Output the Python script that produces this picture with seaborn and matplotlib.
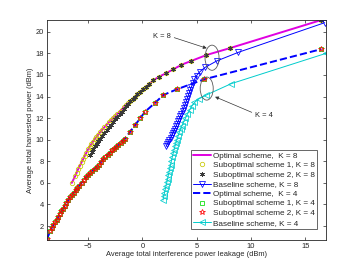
import matplotlib
matplotlib.use('Agg')
import matplotlib.pyplot as plt
from matplotlib.patches import Ellipse
import seaborn as sns

# K = 8 : optimal / suboptimal 1 (same points)
x8_opt = [-6.5, -6.2, -6.05, -5.9, -5.75, -5.6, -5.45, -5.3, -5.15, -5.0, -4.85, -4.7, -4.55,
          -4.4, -4.25, -4.1, -3.9, -3.7, -3.5, -3.3, -3.1, -2.9, -2.7, -2.5, -2.3, -2.1, -1.9,
          -1.7, -1.5, -1.3, -1.1, -0.9, -0.7, -0.45, -0.2, 0.1, 0.35, 0.6, 1.0, 1.5, 2.15, 2.85,
          3.6, 4.5, 5.9, 8.1, 16.5]
y8_opt = [6.0, 6.6, 6.95, 7.3, 7.6, 7.9, 8.2, 8.5, 8.8, 9.1, 9.35, 9.6, 9.82,
          10.03, 10.23, 10.42, 10.68, 10.92, 11.15, 11.37, 11.6, 11.8, 12.0, 12.2, 12.4, 12.6, 12.8,
          13.0, 13.2, 13.4, 13.6, 13.78, 13.96, 14.2, 14.42, 14.7, 14.92, 15.14, 15.5, 15.82, 16.15, 16.52,
          16.95, 17.3, 17.85, 18.5, 21.1]

# K = 8 : suboptimal 2
x8_sub2 = [-4.8, -4.65, -4.5, -4.35, -4.2, -4.05, -3.9, -3.7, -3.5, -3.3, -3.1, -2.9, -2.7,
           -2.5, -2.3, -2.1, -1.9, -1.7, -1.5, -1.3, -1.1, -0.9, -0.7, -0.45, -0.2, 0.1, 0.35,
           0.6, 1.0, 1.5, 2.15, 2.85, 3.6, 4.5, 5.9, 8.1, 16.5]
y8_sub2 = [8.55, 8.85, 9.12, 9.38, 9.62, 9.85, 10.05, 10.35, 10.62, 10.9, 11.15, 11.4, 11.65,
           11.9, 12.15, 12.38, 12.6, 12.85, 13.1, 13.33, 13.55, 13.76, 13.95, 14.2, 14.42, 14.7, 14.92,
           15.14, 15.5, 15.82, 16.15, 16.52, 16.95, 17.3, 17.85, 18.5, 21.1]

# K = 8 : baseline
x8_base = [2.2, 2.3, 2.4, 2.5, 2.6, 2.7, 2.8, 2.9, 3.0, 3.1, 3.2, 3.3, 3.4, 3.5, 3.6, 3.7, 3.8,
           3.9, 4.0, 4.1, 4.2, 4.3, 4.4, 4.52, 4.65, 4.8, 5.0, 5.3, 5.77, 6.85, 8.84, 16.8]
y8_base = [9.4, 9.6, 9.8, 10.0, 10.2, 10.4, 10.6, 10.8, 11.0, 11.23, 11.46, 11.7, 11.93, 12.17,
           12.4, 12.65, 12.9, 13.18, 13.46, 13.74, 14.02, 14.3, 14.58, 14.9, 15.25, 15.6, 15.95,
           16.3, 16.7, 17.3, 18.1, 20.85]

# K = 4 : optimal / suboptimal 1 / suboptimal 2 (same points)
x4_opt = [-8.8, -8.5, -8.35, -8.2, -8.05, -7.9, -7.75, -7.6, -7.45, -7.3, -7.15, -7.0, -6.83,
          -6.66, -6.48, -6.3, -6.15, -6.0, -5.8, -5.6, -5.4, -5.2, -5.0, -4.8, -4.6, -4.4, -4.2,
          -4.0, -3.8, -3.6, -3.4, -3.2, -3.0, -2.8, -2.6, -2.4, -2.2, -2.0, -1.8, -1.6, -1.13,
          -0.67, -0.21, 0.25, 1.17, 1.93, 3.17, 5.7, 16.5]
y4_opt = [0.75, 1.5, 1.8, 2.1, 2.35, 2.6, 2.85, 3.1, 3.35, 3.6, 3.85, 4.1, 4.4,
          4.7, 4.92, 5.1, 5.3, 5.5, 5.75, 6.0, 6.25, 6.5, 6.7, 6.9, 7.1, 7.3, 7.5,
          7.7, 7.95, 8.2, 8.4, 8.6, 8.8, 9.0, 9.17, 9.35, 9.52, 9.7, 9.9, 10.1, 10.73,
          11.35, 11.97, 12.59, 13.42, 14.14, 14.67, 15.6, 18.4]

# K = 4 : baseline
x4_base = [1.9, 1.97, 2.04, 2.11, 2.18, 2.25, 2.32, 2.39, 2.46, 2.53, 2.6, 2.68, 2.76, 2.84,
           2.92, 3.0, 3.09, 3.18, 3.28, 3.4, 3.52, 3.65, 3.8, 3.97, 4.15, 4.35, 4.55, 4.8, 5.2,
           5.9, 8.2, 16.9]
y4_base = [4.4, 4.75, 5.08, 5.4, 5.73, 6.05, 6.38, 6.7, 7.03, 7.36, 7.7, 8.05, 8.4, 8.74,
           9.07, 9.4, 9.7, 10.0, 10.32, 10.68, 10.98, 11.3, 11.65, 12.0, 12.38, 12.75, 13.1, 13.45,
           13.78, 14.15, 15.2, 18.0]

xticks = [-5, 0, 5, 10, 15]
yticks = [2, 4, 6, 8, 10, 12, 14, 16, 18, 20]

sns.set_style('ticks')
plt.rcParams['font.family'] = ['Liberation Sans', 'DejaVu Sans']
plt.rcParams['xtick.direction'] = 'in'
plt.rcParams['ytick.direction'] = 'in'

fig = plt.figure(figsize=(3.6, 2.7), dpi=100)
ax = fig.add_axes([0.13, 0.111, 0.775, 0.815])


def draw(x, y, color, label, **kw):
    if 'marker' in kw:
        kw.setdefault('markerfacecolor', 'none')
        kw.setdefault('markeredgecolor', color)
        kw.setdefault('markeredgewidth', 0.55)
    sns.lineplot(x=x, y=y, sort=False, estimator=None, color=color, label=label, ax=ax, **kw)


draw(x8_opt, y8_opt, '#E000E0', 'Optimal scheme,  K = 8', lw=1.4)
draw(x8_opt, y8_opt, '#C8C800', 'Suboptimal scheme 1, K = 8', linestyle='none', marker='o', markersize=3.2)
draw(x8_sub2, y8_sub2, '#3a3a3a', 'Suboptimal scheme 2, K = 8', linestyle='none', marker=(6, 2, 0),
     markersize=3.5, markerfacecolor='#3a3a3a')
draw(x8_base, y8_base, '#0000FF', 'Baseline scheme, K = 8', lw=0.7, marker='v', markersize=4)
draw(x4_opt, y4_opt, '#0000FF', 'Optimal scheme,  K = 4', lw=1.4, linestyle='--')
draw(x4_opt, y4_opt, '#00DD00', 'Suboptimal scheme 1, K = 4', linestyle='none', marker='s', markersize=3.3)
draw(x4_opt, y4_opt, '#FF0000', 'Suboptimal scheme 2, K = 4', linestyle='none', marker='*', markersize=4.2)
draw(x4_base, y4_base, '#00CCCC', 'Baseline scheme, K = 4', lw=0.7, marker='<', markersize=4)

# ellipses + annotations
ax.add_patch(Ellipse((6.42, 17.6), 1.29, 2.33, fill=False, ec='0.35', lw=0.6, zorder=5))
ax.add_patch(Ellipse((5.93, 14.74), 1.2, 2.14, fill=False, ec='0.35', lw=0.6, zorder=5))
ax.annotate('K = 8', xy=(5.93, 18.48), xytext=(0.99, 19.56), fontsize=5.4, va='center', ha='left',
            arrowprops=dict(arrowstyle='-|>', color='0.2', lw=0.5, mutation_scale=5,
                            shrinkA=0, shrinkB=0, relpos=(1, 0.5)))
ax.annotate('K = 4', xy=(6.7, 13.98), xytext=(10.38, 12.28), fontsize=5.4, va='center', ha='left',
            arrowprops=dict(arrowstyle='-|>', color='0.2', lw=0.5, mutation_scale=5,
                            shrinkA=0, shrinkB=0, relpos=(0, 0.7)))

ax.set_xlim(-8.8, 16.9)
ax.set_ylim(0.7, 21.1)
ax.set_xticks(xticks)
ax.set_yticks(yticks)
ax.tick_params(labelsize=5.4, length=2.5, width=0.5, top=True, right=True, pad=2)
for s in ax.spines.values():
    s.set_linewidth(0.6)
ax.set_xlabel('Average total interference power leakage (dBm)', fontsize=5.4, labelpad=1)
ax.set_ylabel('Average total harvested power (dBm)', fontsize=5.4, labelpad=1)

leg = ax.legend(loc='lower right', bbox_to_anchor=(0.97, 0.05), borderaxespad=0, fontsize=5.9,
                fancybox=False, edgecolor='0.3', framealpha=1, handlelength=2.2,
                handletextpad=0.2, labelspacing=0.22, borderpad=0.3)
leg.get_frame().set_linewidth(0.6)

fig.savefig('out.png', dpi=100)
